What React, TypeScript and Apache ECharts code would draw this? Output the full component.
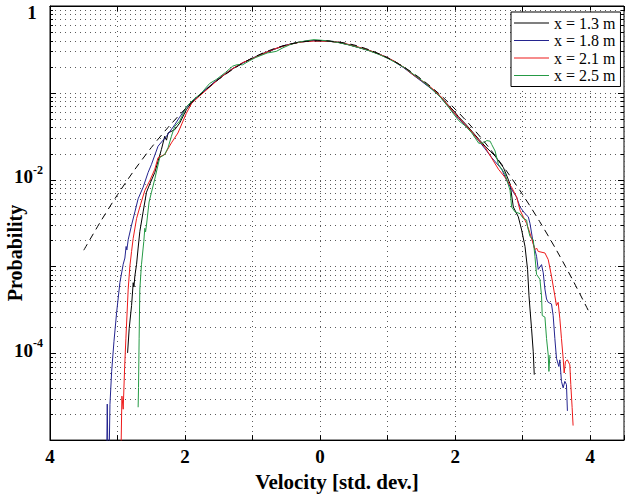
import { useEffect, useRef } from "react";
import * as echarts from "echarts";

// ---------- data ----------
const seriesNames = ["x = 1.3 m", "x = 1.8 m", "x = 2.1 m", "x = 2.5 m"];
const seriesColors = ["#000000", "#24248f", "#ee1a1a", "#259a45"];

// [velocity (std. dev.), probability]
const black13: number[][] = [
  [-2.851, 1.01e-4], [-2.827, 1.94e-4], [-2.792, 3.54e-4], [-2.768, 6.5e-4], [-2.757, 5.8e-4], [-2.743, 7.8e-4],
  [-2.718, 1.06e-3], [-2.695, 1.63e-3], [-2.67, 2.52e-3], [-2.621, 4.25e-3], [-2.571, 7.17e-3], [-2.522, 8.91e-3],
  [-2.448, 0.0121], [-2.35, 0.0223], [-2.301, 0.0316], [-2.275, 0.0285], [-2.252, 0.0345], [-2.153, 0.0376],
  [-2.08, 0.0448], [-1.981, 0.064], [-1.9, 0.0775], [-1.785, 0.0935], [-1.66, 0.114], [-1.538, 0.137],
  [-1.42, 0.161], [-1.294, 0.189], [-1.15, 0.221], [-0.999, 0.25], [-0.9, 0.272], [-0.801, 0.291],
  [-0.68, 0.318], [-0.556, 0.344], [-0.43, 0.366], [-0.31, 0.383], [-0.2, 0.395], [-0.1, 0.401],
  [0.01, 0.397], [0.12, 0.394], [0.28, 0.379], [0.42, 0.358], [0.575, 0.332], [0.72, 0.309],
  [0.87, 0.279], [1.0, 0.251], [1.117, 0.227], [1.24, 0.196], [1.361, 0.167], [1.5, 0.138],
  [1.656, 0.111], [1.78, 0.0905], [1.903, 0.0715], [1.98, 0.062], [2.05, 0.053], [2.15, 0.044],
  [2.246, 0.0362], [2.35, 0.0292], [2.444, 0.0242], [2.52, 0.0212], [2.591, 0.0187], [2.714, 0.0138],
  [2.813, 0.00891], [2.861, 0.00484], [2.935, 0.00373], [2.984, 0.00263], [3.034, 0.0017], [3.072, 9.25e-4],
  [3.093, 4.59e-4], [3.108, 3.24e-4], [3.131, 1.92e-4], [3.156, 1.04e-4], [3.171, 5.67e-5],
];

const blue18: number[][] = [
  [-3.165, 3e-6], [-3.152, 2.6e-5], [-3.137, 3e-6], [-3.127, 5e-6], [-3.112, 2.58e-5], [-3.087, 6.18e-5],
  [-3.053, 1.36e-4], [-3.013, 2.97e-4], [-2.965, 6.52e-4], [-2.916, 1.06e-3], [-2.891, 1.25e-3], [-2.873, 1.7e-3],
  [-2.862, 1.55e-3], [-2.842, 2.03e-3], [-2.792, 3.0e-3], [-2.743, 4.25e-3], [-2.695, 6.02e-3], [-2.621, 8.17e-3],
  [-2.547, 0.0121], [-2.497, 0.015], [-2.4, 0.0243], [-2.276, 0.0316], [-2.153, 0.0428], [-2.08, 0.0525],
  [-1.981, 0.068], [-1.9, 0.079], [-1.785, 0.0945], [-1.66, 0.115], [-1.538, 0.139], [-1.42, 0.163],
  [-1.294, 0.191], [-1.15, 0.219], [-0.999, 0.251], [-0.9, 0.271], [-0.801, 0.293], [-0.68, 0.317],
  [-0.556, 0.346], [-0.43, 0.366], [-0.31, 0.384], [-0.2, 0.393], [-0.1, 0.398], [0.01, 0.399],
  [0.12, 0.395], [0.28, 0.381], [0.42, 0.359], [0.575, 0.333], [0.72, 0.307], [0.87, 0.281],
  [1.0, 0.253], [1.117, 0.224], [1.24, 0.194], [1.361, 0.164], [1.5, 0.136], [1.656, 0.11],
  [1.78, 0.089], [1.903, 0.069], [2.05, 0.0505], [2.15, 0.0425], [2.246, 0.0352], [2.35, 0.028],
  [2.444, 0.0226], [2.541, 0.0179], [2.689, 0.0132], [2.763, 0.00975], [2.861, 0.00717], [2.91, 0.00629],
  [2.96, 0.00484], [3.034, 0.00406], [3.083, 0.00373], [3.108, 0.00313], [3.156, 0.00185], [3.205, 0.00131],
  [3.23, 9.25e-4], [3.279, 1.05e-3], [3.304, 8.45e-4], [3.329, 5.48e-4], [3.353, 4.22e-4], [3.378, 3.86e-4],
  [3.426, 3.7e-4], [3.451, 2.72e-4], [3.476, 1.48e-4], [3.5, 8.77e-5], [3.535, 7.05e-5], [3.55, 8.39e-5],
  [3.574, 4.75e-5], [3.599, 4.0e-5], [3.624, 4.75e-5], [3.648, 4.36e-5], [3.662, 2.17e-5],
];

const red21: number[][] = [
  [-2.954, 4e-6], [-2.935, 3.21e-5], [-2.916, 2.27e-5], [-2.895, 6.81e-5], [-2.876, 1.49e-4], [-2.842, 5.48e-4],
  [-2.817, 1.01e-3], [-2.792, 1.49e-3], [-2.768, 2.11e-3], [-2.718, 3.57e-3], [-2.67, 4.84e-3], [-2.596, 7.5e-3],
  [-2.522, 9.75e-3], [-2.448, 0.0132], [-2.4, 0.0179], [-2.301, 0.0195], [-2.202, 0.0265], [-2.105, 0.0345],
  [-1.981, 0.0582], [-1.9, 0.076], [-1.785, 0.092], [-1.66, 0.112], [-1.538, 0.136], [-1.42, 0.162],
  [-1.294, 0.19], [-1.15, 0.222], [-0.999, 0.249], [-0.9, 0.27], [-0.801, 0.292], [-0.68, 0.319],
  [-0.556, 0.343], [-0.43, 0.364], [-0.31, 0.382], [-0.2, 0.391], [-0.1, 0.394], [0.01, 0.394],
  [0.12, 0.393], [0.28, 0.382], [0.42, 0.361], [0.575, 0.335], [0.72, 0.31], [0.87, 0.28],
  [1.0, 0.254], [1.117, 0.227], [1.24, 0.197], [1.361, 0.165], [1.5, 0.139], [1.656, 0.113],
  [1.78, 0.092], [1.903, 0.07], [2.05, 0.0515], [2.15, 0.043], [2.246, 0.0355], [2.35, 0.0283],
  [2.444, 0.0235], [2.493, 0.0204], [2.64, 0.0132], [2.739, 0.0106], [2.836, 0.00817], [2.91, 0.00629],
  [2.96, 0.00445], [3.009, 0.00373], [3.058, 0.00313], [3.108, 0.00241], [3.181, 0.00156], [3.205, 0.00163],
  [3.23, 0.00149], [3.329, 0.00143], [3.378, 0.0012], [3.426, 7.76e-4], [3.476, 4.59e-4], [3.5, 3.54e-4],
  [3.525, 3.86e-4], [3.55, 2.5e-4], [3.574, 1.48e-4], [3.599, 8.77e-5], [3.614, 5.93e-5], [3.633, 8.03e-5],
  [3.662, 8.39e-5], [3.698, 7.36e-5], [3.712, 4.36e-5], [3.732, 2.37e-5], [3.746, 1.47e-5],
];

const green25: number[][] = [
  [-2.695, 2.39e-5], [-2.689, 4.03e-5], [-2.68, 1.49e-4], [-2.67, 5.48e-4], [-2.645, 1.06e-3], [-2.611, 1.94e-3],
  [-2.596, 2.75e-3], [-2.585, 2.5e-3], [-2.571, 3.0e-3], [-2.533, 5.52e-3], [-2.497, 7.17e-3], [-2.448, 0.0102],
  [-2.375, 0.0179], [-2.301, 0.0195], [-2.252, 0.0233], [-2.202, 0.0316], [-2.153, 0.0411], [-2.08, 0.0472],
  [-1.981, 0.0693], [-1.88, 0.083], [-1.76, 0.099], [-1.637, 0.128], [-1.54, 0.142], [-1.4, 0.172],
  [-1.294, 0.203], [-1.22, 0.212], [-1.15, 0.21], [-1.05, 0.233], [-0.95, 0.256], [-0.78, 0.288],
  [-0.65, 0.3], [-0.55, 0.33], [-0.45, 0.357], [-0.35, 0.379], [-0.2, 0.398], [-0.09, 0.41],
  [0.01, 0.404], [0.12, 0.396], [0.28, 0.378], [0.42, 0.357], [0.575, 0.331], [0.72, 0.306],
  [0.87, 0.277], [1.0, 0.25], [1.117, 0.223], [1.24, 0.197], [1.361, 0.168], [1.5, 0.14],
  [1.656, 0.11], [1.78, 0.0895], [1.903, 0.068], [2.05, 0.048], [2.15, 0.0415], [2.246, 0.0345],
  [2.35, 0.0262], [2.419, 0.0265], [2.468, 0.0282], [2.518, 0.0277], [2.541, 0.0254], [2.591, 0.0214],
  [2.64, 0.015], [2.739, 0.0116], [2.813, 0.0075], [2.836, 0.00484], [2.886, 0.00425], [2.96, 0.00406],
  [3.009, 0.00357], [3.058, 0.00342], [3.072, 0.00287], [3.108, 0.00221], [3.156, 0.00203], [3.181, 0.00131],
  [3.205, 8.11e-4], [3.255, 7.11e-4], [3.279, 4.59e-4], [3.289, 2.72e-4], [3.329, 2.61e-4], [3.353, 1.48e-4],
  [3.378, 9.57e-5], [3.388, 6.18e-5], [3.403, 9.57e-5],
];

// dashed reference curve
const referenceCurve: number[][] = [
  [-3.5, 1.54e-3], [-3.25, 3.3e-3], [-3.0, 6.71e-3], [-2.75, 0.0129], [-2.5, 0.0234], [-2.25, 0.0401],
  [-2.0, 0.0649], [-1.75, 0.0993], [-1.5, 0.1435], [-1.25, 0.196], [-1.0, 0.253], [-0.75, 0.308],
  [-0.5, 0.356], [-0.25, 0.387], [0, 0.398], [0.25, 0.387], [0.5, 0.356], [0.75, 0.308],
  [1.0, 0.253], [1.25, 0.196], [1.5, 0.1435], [1.75, 0.0993], [2.0, 0.0649], [2.25, 0.0401],
  [2.5, 0.0234], [2.75, 0.0129], [3.0, 6.71e-3], [3.25, 3.3e-3], [3.5, 1.54e-3], [3.75, 6.76e-4],
  [4.0, 2.81e-4],
];

const xMin = -4;
const xMax = 4.5;
const yMin = 1e-5;
const yMax = 1;
const yDecades = [-5, -4, -3, -2, -1];
const yMantissas = [1, 2, 3, 4, 5, 6, 7, 8, 9];
const yLabelValues = [1, 1e-2, 1e-4];
const yLabelBase = ["1", "10", "10"];
const yLabelSup = ["", "-2", "-4"];

const allSeries = [black13, blue18, red21, green25];

export default function App() {
  const ref = useRef<HTMLDivElement>(null);

  useEffect(() => {
    document.body.style.margin = "0";
    if (!ref.current) return;
    const chart = echarts.init(ref.current, undefined, { renderer: "svg" });

    const gridRows: number[][] = [];
    yDecades.forEach((d) => {
      yMantissas.forEach((m) => {
        gridRows.push([xMin, m * Math.pow(10, d), m === 1 ? 1 : 0]);
      });
    });
    gridRows.push([xMin, yMax, 1]);

    const serif = "Liberation Serif";
    const gridColor = "#5a5a5a";

    const option: any = {
      animation: false,
      backgroundColor: "#ffffff",
      grid: { left: 50, top: 6, width: 575, height: 440, show: true, borderColor: "#000", borderWidth: 1, backgroundColor: "transparent" },
      graphic: [
        {
          type: "text",
          x: 15,
          y: 253,
          rotation: Math.PI / 2,
          style: {
            text: "Probability",
            fontFamily: serif,
            fontWeight: "bold",
            fontSize: 20,
            fill: "#000",
            align: "center",
            verticalAlign: "middle",
            textAlign: "center",
            textVerticalAlign: "middle",
          },
        },
      ],
      legend: {
        data: seriesNames,
        orient: "vertical",
        left: 511,
        top: 12,
        icon: "rect",
        itemWidth: 35,
        itemHeight: 1.2,
        itemGap: 1.5,
        padding: [3, 5, 3, 3],
        borderColor: "#000",
        borderWidth: 1,
        backgroundColor: "#fff",
        textStyle: { fontFamily: serif, fontSize: 16, color: "#000" },
      },
      xAxis: [
        {
          type: "value",
          min: xMin,
          max: xMax,
          interval: 1,
          position: "bottom",
          axisLine: { show: true, onZero: false, lineStyle: { color: "#000", width: 1 } },
          axisTick: { show: true, inside: true, length: 5, lineStyle: { color: "#000" } },
          axisLabel: {
            formatter: (v: number) => (Number.isInteger(v) && v % 2 === 0 ? String(Math.abs(v)) : ""),
            fontFamily: serif,
            fontWeight: "bold",
            fontSize: 19,
            color: "#000",
            margin: 7,
          },
          splitLine: { show: true, lineStyle: { color: gridColor, width: 1, type: [1, 4] } },
          name: "Velocity [std. dev.]",
          nameLocation: "middle",
          nameGap: 25,
          nameTextStyle: { fontFamily: serif, fontWeight: "bold", fontSize: 21, color: "#000", verticalAlign: "top" },
        },
        {
          type: "value",
          min: xMin,
          max: xMax,
          interval: 1,
          position: "top",
          axisLine: { show: true, onZero: false, lineStyle: { color: "#000", width: 1 } },
          axisTick: { show: true, inside: true, length: 5, lineStyle: { color: "#000" } },
          axisLabel: { show: false },
          splitLine: { show: false },
        },
      ],
      yAxis: {
        type: "log",
        logBase: 10,
        min: yMin,
        max: yMax,
        axisLine: { show: true, onZero: false, lineStyle: { color: "#000", width: 1 } },
        axisTick: { show: false },
        axisLabel: { show: false },
        splitLine: { show: false },
      },
      series: [
        {
          type: "custom",
          name: "grid",
          silent: true,
          clip: false,
          z: 1,
          data: gridRows,
          encode: { x: 0, y: 1 },
          renderItem: (params: any, api: any) => {
            const cs = params.coordSys;
            const val = api.value(1) as number;
            const major = api.value(2) as number;
            const y = Math.round(api.coord([xMin, val])[1]) + 0.5;
            const len = major ? 6 : 3;
            const children: any[] = [];
            if (y > cs.y + 1 && y < cs.y + cs.height - 1) {
              children.push({
                type: "line",
                shape: { x1: cs.x, y1: y, x2: cs.x + cs.width, y2: y },
                style: { stroke: gridColor, lineWidth: 1, lineDash: [1, 4] },
              });
            }
            children.push({ type: "line", shape: { x1: cs.x, y1: y, x2: cs.x + len, y2: y }, style: { stroke: "#000", lineWidth: 1 } });
            children.push({ type: "line", shape: { x1: cs.x + cs.width - len, y1: y, x2: cs.x + cs.width, y2: y }, style: { stroke: "#000", lineWidth: 1 } });
            return { type: "group", children };
          },
        },
        {
          type: "custom",
          name: "ylabels",
          silent: true,
          clip: false,
          z: 3,
          data: yLabelValues.map((v, i) => [xMin, v, i]),
          encode: { x: 0, y: 1 },
          renderItem: (params: any, api: any) => {
            const cs = params.coordSys;
            const i = api.value(2) as number;
            const y = api.coord([xMin, api.value(1)])[1];
            const font = { fontFamily: serif, fontWeight: "bold", fill: "#000" };
            if (!yLabelSup[i]) {
              return {
                type: "text",
                x: cs.x - 18,
                y: y + 6.5,
                style: { ...font, text: yLabelBase[i], fontSize: 19, align: "center", verticalAlign: "middle", textAlign: "center", textVerticalAlign: "middle" },
              };
            }
            return {
              type: "group",
              children: [
                {
                  type: "text",
                  x: cs.x - 17,
                  y: y - 3,
                  style: { ...font, text: yLabelBase[i], fontSize: 19, align: "right", verticalAlign: "middle", textAlign: "right", textVerticalAlign: "middle" },
                },
                {
                  type: "text",
                  x: cs.x - 17,
                  y: y - 10,
                  style: { ...font, text: yLabelSup[i], fontSize: 12, align: "left", verticalAlign: "middle", textAlign: "left", textVerticalAlign: "middle" },
                },
              ],
            };
          },
        },
        ...allSeries.map((d, i) => ({
          type: "line",
          name: seriesNames[i],
          data: d,
          symbol: "none",
          showSymbol: false,
          clip: true,
          z: 2,
          lineStyle: { color: seriesColors[i], width: 1 },
          itemStyle: { color: seriesColors[i] },
        })),
        {
          type: "line",
          name: "reference",
          data: referenceCurve,
          symbol: "none",
          showSymbol: false,
          smooth: 0.3,
          clip: true,
          z: 2,
          lineStyle: { color: "#000", width: 1, type: [7, 5] },
          itemStyle: { color: "#000" },
        },
      ],
    };

    chart.setOption(option);
    return () => chart.dispose();
  }, []);

  return <div ref={ref} style={{ width: 627, height: 497 }} />;
}
